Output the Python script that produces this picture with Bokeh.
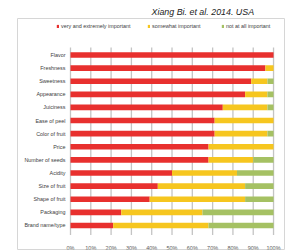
from bokeh.plotting import figure
from bokeh.models import (ColumnDataSource, LinearAxis, FixedTicker, Legend,
                          LegendItem, Range1d)
from bokeh.embed import file_html
from bokeh.resources import INLINE

# ---- data ----
categories = ["Flavor", "Freshness", "Sweetness", "Appearance", "Juiciness",
              "Ease of peel", "Color of fruit", "Price", "Number of seeds",
              "Acidity", "Size of fruit", "Shape of fruit", "Packaging",
              "Brand name/type"]
very = [100, 96, 89, 86, 75, 71, 71, 68, 68, 50, 43, 39, 25, 21]
somewhat = [0, 4, 8, 11, 22, 29, 26, 32, 22, 32, 43, 47, 40, 47]
not_at_all = [0, 0, 3, 3, 3, 0, 3, 0, 10, 18, 14, 14, 35, 32]
series_names = ["very and extremely important", "somewhat important",
                "not at all important"]
series_colors = ["#e8302e", "#f6c61f", "#a5c163"]
x_ticks = [0, 10, 20, 30, 40, 50, 60, 70, 80, 90, 100]
x_tick_labels = ["0%", "10%", "20%", "30%", "40%", "50%", "60%", "70%",
                 "80%", "90%", "100%"]
title_text = "Xiang Bi. et al. 2014. USA"

n = len(categories)
pos = [n - 1 - i for i in range(n)]
src = ColumnDataSource(dict(y=pos, very=very, somewhat=somewhat,
                            not_at_all=not_at_all))

FONT = "Liberation Sans"

p = figure(width=286, height=251, output_backend="svg", toolbar_location=None,
           x_axis_type=None, y_axis_type=None,
           x_range=Range1d(-26.1, 105.4), y_range=Range1d(-1.83, 15.78),
           min_border_left=17, min_border_top=18, min_border_right=2,
           min_border_bottom=2)
p.outline_line_color = "#d6d6d6"
p.outline_line_width = 1
p.background_fill_color = "white"
p.border_fill_color = "white"

# title
p.title.text = title_text
p.title.align = "left"
p.title.offset = 134
p.title.standoff = 3
p.title.text_font = FONT
p.title.text_font_size = "8.9px"
p.title.text_font_style = "italic"
p.title.text_color = "#222222"

# vertical gridlines at the tick positions, spanning the category rows
grid_src = ColumnDataSource(dict(x=x_ticks,
                                 y0=[min(pos) - 0.72] * len(x_ticks),
                                 y1=[max(pos) + 0.57] * len(x_ticks)))
p.segment(x0="x", x1="x", y0="y0", y1="y1", source=grid_src,
          line_color="#c4c4c4", line_width=1.3)

renderers = p.hbar_stack(["very", "somewhat", "not_at_all"], y="y", height=0.43,
                         color=series_colors, source=src, line_width=0)

# category axis (fixed at 0%)
yaxis = LinearAxis(fixed_location=0, ticker=FixedTicker(ticks=pos),
                   major_label_overrides={pv: c for pv, c in zip(pos, categories)},
                   axis_line_color=None, major_tick_line_color=None,
                   major_tick_out=0, major_tick_in=0,
                   minor_tick_line_color=None, major_label_standoff=5,
                   major_label_text_font=FONT, major_label_text_font_size="5.4px",
                   major_label_text_color="#404040")
p.add_layout(yaxis, "left")

# percent axis
xaxis = LinearAxis(fixed_location=-0.85, ticker=FixedTicker(ticks=x_ticks),
                   major_label_overrides={t: l for t, l in zip(x_ticks, x_tick_labels)},
                   axis_line_color=None, major_tick_line_color=None,
                   minor_tick_line_color=None, major_label_standoff=2,
                   major_label_text_font=FONT, major_label_text_font_size="5.5px",
                   major_label_text_color="#595959")
p.add_layout(xaxis, "below")

# legends (one per item for exact placement)
leg_x = [39, 130, 204]
for r, name, lx in zip(renderers, series_names, leg_x):
    leg = Legend(items=[LegendItem(label=name, renderers=[r])],
                 location=(lx, 220.5), padding=0, margin=0, spacing=0,
                 border_line_color=None, background_fill_alpha=0,
                 glyph_width=3, glyph_height=4, label_height=5, label_width=5,
                 label_standoff=2, label_text_font=FONT,
                 label_text_font_size="5.4px", label_text_color="#404040")
    p.add_layout(leg, "center")

open("out.html", "w").write(file_html(p, INLINE))
